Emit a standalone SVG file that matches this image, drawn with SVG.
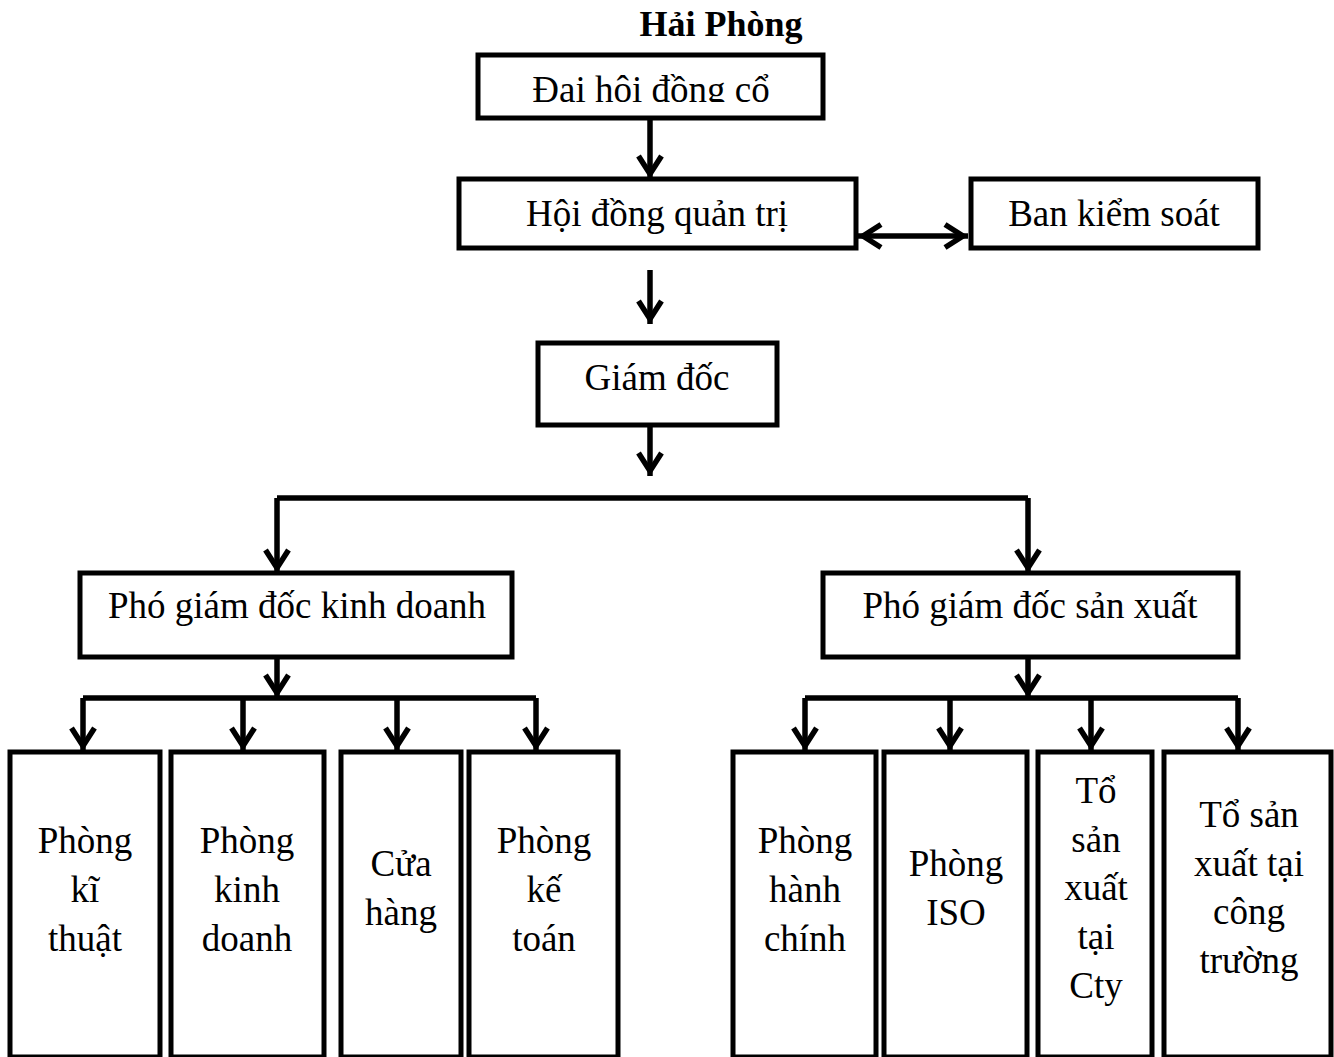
<svg xmlns="http://www.w3.org/2000/svg" width="1334" height="1057" viewBox="0 0 1334 1057">
<style>
.box{fill:#fff;stroke:#000;stroke-width:5}
.t{font-family:"Liberation Serif","Times New Roman",serif;font-size:37px;fill:#000;text-anchor:middle}
.title{font-family:"Liberation Serif","Times New Roman",serif;font-size:36px;font-weight:bold;fill:#000;text-anchor:middle}
.c{fill:none;stroke:#000;stroke-width:5.5}
.a{marker-end:url(#arr)}
</style>
<defs>
<marker id="arr" markerUnits="userSpaceOnUse" markerWidth="40" markerHeight="40" viewBox="-30 -20 40 40" refX="0" refY="0" orient="auto-start-reverse" overflow="visible">
<path d="M-23,-11.5 L-5,0 L-23,11.5" fill="none" stroke="#000" stroke-width="5.5"/>
</marker>
<clipPath id="clip1"><rect x="478" y="55" width="345" height="47"/></clipPath>
</defs>
<rect width="1334" height="1057" fill="#fff"/>
<text class="title" x="721" y="36">Hải Phòng</text>

<g id="connectors">
<path class="c a" d="M650,118 L650,179"/>
<path class="c" d="M858,236 L968,236" marker-start="url(#arr)" marker-end="url(#arr)"/>
<path class="c a" d="M650,270 L650,324"/>
<path class="c a" d="M650,425 L650,476"/>
<path class="c" d="M277,498 L1028,498"/>
<path class="c a" d="M277,498 L277,573"/>
<path class="c a" d="M1028,498 L1028,573"/>
<path class="c a" d="M277,657 L277,698"/>
<path class="c" d="M83,698 L536,698"/>
<path class="c a" d="M83,698 L83,751"/>
<path class="c a" d="M243,698 L243,751"/>
<path class="c a" d="M397,698 L397,751"/>
<path class="c a" d="M536,698 L536,751"/>
<path class="c a" d="M1028,657 L1028,698"/>
<path class="c" d="M805,698 L1238,698"/>
<path class="c a" d="M805,698 L805,751"/>
<path class="c a" d="M950,698 L950,751"/>
<path class="c a" d="M1091,698 L1091,751"/>
<path class="c a" d="M1238,698 L1238,751"/>
</g>

<g id="dhdcd">
<rect class="box" x="478" y="55" width="345" height="63"/>
<text class="t" x="651" y="102" clip-path="url(#clip1)">Đại hội đồng cổ</text>
</g>
<g id="hdqt">
<rect class="box" x="459" y="179" width="397" height="69"/>
<text class="t" x="657" y="226">Hội đồng quản trị</text>
</g>
<g id="bks">
<rect class="box" x="971" y="179" width="287" height="69"/>
<text class="t" x="1114" y="226">Ban kiểm soát</text>
</g>
<g id="gd">
<rect class="box" x="538" y="343" width="239" height="82"/>
<text class="t" x="657" y="390">Giám đốc</text>
</g>
<g id="pgdkd">
<rect class="box" x="80" y="573" width="432" height="84"/>
<text class="t" x="297" y="618">Phó giám đốc kinh doanh</text>
</g>
<g id="pgdsx">
<rect class="box" x="823" y="573" width="415" height="84"/>
<text class="t" x="1030" y="618">Phó giám đốc sản xuất</text>
</g>

<g id="pkt">
<rect class="box" x="10" y="752" width="150" height="305"/>
<text class="t" x="85" y="853">Phòng</text>
<text class="t" x="85" y="902">kĩ</text>
<text class="t" x="85" y="951">thuật</text>
</g>
<g id="pkd">
<rect class="box" x="171" y="752" width="153" height="305"/>
<text class="t" x="247" y="853">Phòng</text>
<text class="t" x="247" y="902">kinh</text>
<text class="t" x="247" y="951">doanh</text>
</g>
<g id="ch">
<rect class="box" x="341" y="752" width="120" height="305"/>
<text class="t" x="401" y="876">Cửa</text>
<text class="t" x="401" y="925">hàng</text>
</g>
<g id="pkto">
<rect class="box" x="469" y="752" width="149" height="305"/>
<text class="t" x="544" y="853">Phòng</text>
<text class="t" x="544" y="902">kế</text>
<text class="t" x="544" y="951">toán</text>
</g>
<g id="phc">
<rect class="box" x="733" y="752" width="143" height="305"/>
<text class="t" x="805" y="853">Phòng</text>
<text class="t" x="805" y="902">hành</text>
<text class="t" x="805" y="951">chính</text>
</g>
<g id="piso">
<rect class="box" x="884" y="752" width="143" height="305"/>
<text class="t" x="956" y="876">Phòng</text>
<text class="t" x="956" y="925">ISO</text>
</g>
<g id="tsxcty">
<rect class="box" x="1038" y="752" width="114" height="305"/>
<text class="t" x="1096" y="803">Tổ</text>
<text class="t" x="1096" y="852">sản</text>
<text class="t" x="1096" y="900">xuất</text>
<text class="t" x="1096" y="949">tại</text>
<text class="t" x="1096" y="998">Cty</text>
</g>
<g id="tsxct">
<rect class="box" x="1164" y="752" width="167" height="305"/>
<text class="t" x="1249" y="827">Tổ sản</text>
<text class="t" x="1249" y="876">xuất tại</text>
<text class="t" x="1249" y="924">công</text>
<text class="t" x="1249" y="973">trường</text>
</g>
</svg>
